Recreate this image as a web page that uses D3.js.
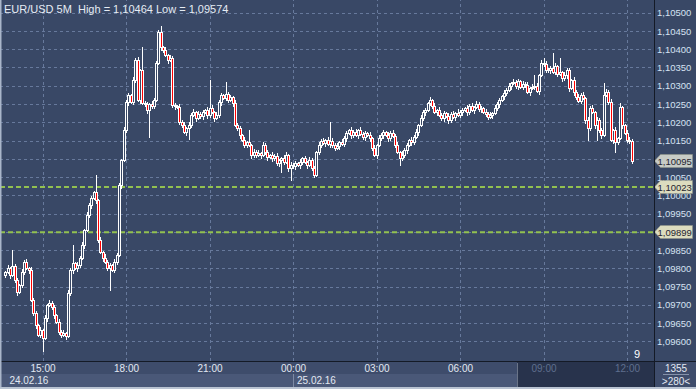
<!DOCTYPE html>
<html><head><meta charset="utf-8">
<script src="https://cdn.jsdelivr.net/npm/d3@7"></script>
<style>
html,body{margin:0;padding:0;background:#394866;overflow:hidden}
svg{display:block}
text{font-family:"Liberation Sans",Arial,sans-serif}
</style></head><body>
<svg id="c" width="696" height="389"></svg>
<script>
// ---------- DATA ----------
const symbolTitle = "EUR/USD 5M  High = 1,10464 Low = 1,09574";
const firstBar = "2016-02-24T13:40";
const barMinutes = 5;
const opens = [
1.09782,1.09790,1.09801,1.09782,1.09807,1.09768,1.09736,1.09755,1.09790,1.09818,
1.09801,1.09796,1.09714,1.09678,1.09645,1.09618,1.09631,1.09610,1.09664,1.09700,
1.09705,1.09694,1.09673,1.09653,1.09626,1.09618,1.09623,1.09615,1.09733,1.09796,
1.09815,1.09801,1.09809,1.09829,1.09864,1.09905,1.09946,1.09974,1.09993,1.10009,
1.09987,1.09878,1.09845,1.09829,1.09818,1.09801,1.09809,1.09796,1.09818,1.09837,
1.10028,1.10097,1.10179,1.10256,1.10275,1.10256,1.10316,1.10371,1.10261,1.10343,
1.10253,1.10250,1.10234,1.10250,1.10245,1.10261,1.10363,1.10447,1.10406,1.10398,
1.10384,1.10371,1.10376,1.10248,1.10245,1.10242,1.10201,1.10193,1.10174,1.10185,
1.10193,1.10220,1.10228,1.10212,1.10223,1.10217,1.10228,1.10234,1.10220,1.10239,
1.10228,1.10212,1.10220,1.10256,1.10275,1.10267,1.10278,1.10261,1.10269,1.10253,
1.10193,1.10185,1.10165,1.10152,1.10138,1.10146,1.10138,1.10111,1.10119,1.10111,
1.10116,1.10111,1.10138,1.10119,1.10105,1.10111,1.10102,1.10108,1.10089,1.10097,
1.10102,1.10091,1.10111,1.10075,1.10083,1.10080,1.10089,1.10083,1.10091,1.10102,
1.10091,1.10083,1.10097,1.10075,1.10056,1.10119,1.10138,1.10149,1.10143,1.10152,
1.10141,1.10149,1.10138,1.10130,1.10135,1.10146,1.10141,1.10157,1.10171,1.10179,
1.10165,1.10174,1.10165,1.10179,1.10168,1.10160,1.10171,1.10165,1.10157,1.10130,
1.10111,1.10138,1.10157,1.10165,1.10174,1.10165,1.10157,1.10171,1.10163,1.10138,
1.10119,1.10102,1.10111,1.10124,1.10138,1.10152,1.10146,1.10160,1.10174,1.10193,
1.10212,1.10228,1.10234,1.10253,1.10261,1.10245,1.10228,1.10234,1.10220,1.10212,
1.10226,1.10217,1.10206,1.10223,1.10215,1.10226,1.10220,1.10228,1.10234,1.10239,
1.10228,1.10245,1.10234,1.10242,1.10250,1.10237,1.10239,1.10228,1.10223,1.10215,
1.10220,1.10226,1.10239,1.10250,1.10261,1.10272,1.10280,1.10289,1.10300,1.10308,
1.10310,1.10300,1.10313,1.10297,1.10305,1.10302,1.10283,1.10294,1.10297,1.10300,
1.10286,1.10330,1.10363,1.10360,1.10343,1.10343,1.10349,1.10338,1.10354,1.10332,
1.10338,1.10321,1.10330,1.10343,1.10294,1.10316,1.10283,1.10269,1.10258,1.10275,
1.10267,1.10206,1.10185,1.10239,1.10228,1.10193,1.10206,1.10179,1.10165,1.10275,
1.10283,1.10256,1.10152,1.10179,1.10146,1.10157,1.10242,1.10193,1.10171,1.10152,
1.10149];
const highs = [
1.09794,1.09808,1.09804,1.09850,1.09812,1.09774,1.09757,1.09798,1.09822,1.09825,
1.09804,1.09805,1.09719,1.09684,1.09647,1.09639,1.09635,1.09671,1.09703,1.09714,
1.09710,1.09700,1.09675,1.09661,1.09630,1.09630,1.09626,1.09742,1.09801,1.09864,
1.09817,1.09817,1.09833,1.09871,1.09908,1.09955,1.09979,1.09999,1.10011,1.10056,
1.09991,1.09885,1.09848,1.09838,1.09823,1.09815,1.09811,1.09826,1.09841,1.10035,
1.10100,1.10188,1.10261,1.10281,1.10277,1.10324,1.10375,1.10378,1.10346,1.10406,
1.10258,1.10256,1.10252,1.10259,1.10266,1.10369,1.10453,1.10464,1.10410,1.10405,
1.10387,1.10385,1.10381,1.10254,1.10247,1.10250,1.10205,1.10200,1.10188,1.10202,
1.10225,1.10235,1.10231,1.10232,1.10228,1.10234,1.10236,1.10242,1.10316,1.10246,
1.10231,1.10229,1.10261,1.10281,1.10277,1.10310,1.10282,1.10276,1.10272,1.10262,
1.10198,1.10191,1.10167,1.10160,1.10150,1.10179,1.10141,1.10128,1.10123,1.10123,
1.10119,1.10147,1.10143,1.10125,1.10113,1.10119,1.10112,1.10115,1.10100,1.10104,
1.10110,1.10118,1.10114,1.10092,1.10088,1.10095,1.10091,1.10099,1.10106,1.10109,
1.10094,1.10106,1.10102,1.10081,1.10121,1.10146,1.10153,1.10156,1.10155,1.10161,
1.10201,1.10157,1.10142,1.10142,1.10149,1.10155,1.10162,1.10177,1.10181,1.10187,
1.10178,1.10181,1.10182,1.10188,1.10173,1.10177,1.10173,1.10173,1.10161,1.10137,
1.10141,1.10166,1.10170,1.10180,1.10176,1.10173,1.10175,1.10178,1.10167,1.10145,
1.10122,1.10120,1.10129,1.10144,1.10154,1.10160,1.10164,1.10181,1.10196,1.10221,
1.10233,1.10240,1.10255,1.10269,1.10265,1.10252,1.10237,1.10243,1.10225,1.10232,
1.10228,1.10225,1.10227,1.10230,1.10229,1.10235,1.10233,1.10240,1.10241,1.10247,
1.10249,1.10252,1.10245,1.10259,1.10255,1.10245,1.10241,1.10236,1.10227,1.10227,
1.10229,1.10248,1.10255,1.10267,1.10274,1.10288,1.10293,1.10307,1.10311,1.10319,
1.10315,1.10319,1.10315,1.10313,1.10309,1.10309,1.10297,1.10306,1.10330,1.10307,
1.10332,1.10371,1.10376,1.10367,1.10348,1.10355,1.10390,1.10362,1.10358,1.10376,
1.10341,1.10339,1.10348,1.10349,1.10318,1.10324,1.10287,1.10277,1.10279,1.10282,
1.10270,1.10215,1.10244,1.10246,1.10230,1.10215,1.10211,1.10185,1.10308,1.10292,
1.10288,1.10263,1.10181,1.10188,1.10161,1.10253,1.10245,1.10196,1.10179,1.10161,
1.10153];
const lows = [
1.09777,1.09787,1.09774,1.09778,1.09762,1.09727,1.09733,1.09748,1.09785,1.09798,
1.09788,1.09710,1.09672,1.09636,1.09615,1.09611,1.09574,1.09607,1.09656,1.09696,
1.09688,1.09664,1.09650,1.09619,1.09613,1.09615,1.09607,1.09611,1.09727,1.09787,
1.09798,1.09794,1.09804,1.09826,1.09856,1.09901,1.09940,1.09965,1.09990,1.09980,
1.09873,1.09842,1.09821,1.09814,1.09795,1.09741,1.09793,1.09789,1.09813,1.09834,
1.10020,1.10093,1.10173,1.10247,1.10253,1.10249,1.10311,1.10258,1.10253,1.10249,
1.10244,1.10225,1.10160,1.10238,1.10240,1.10258,1.10360,1.10399,1.10393,1.10381,
1.10363,1.10367,1.10242,1.10236,1.10239,1.10194,1.10188,1.10171,1.10166,1.10154,
1.10188,1.10217,1.10204,1.10208,1.10211,1.10208,1.10225,1.10213,1.10215,1.10225,
1.10204,1.10208,1.10214,1.10247,1.10264,1.10260,1.10256,1.10258,1.10245,1.10189,
1.10179,1.10156,1.10149,1.10131,1.10133,1.10135,1.10103,1.10105,1.10106,1.10108,
1.10103,1.10107,1.10113,1.10096,1.10102,1.10095,1.10098,1.10083,1.10081,1.10064,
1.10087,1.10088,1.10067,1.10042,1.10074,1.10071,1.10080,1.10076,1.10086,1.10088,
1.10075,1.10079,1.10069,1.10050,1.10053,1.10112,1.10133,1.10140,1.10135,1.10137,
1.10132,1.10131,1.10125,1.10127,1.10127,1.10137,1.10135,1.10148,1.10168,1.10158,
1.10160,1.10162,1.10157,1.10164,1.10154,1.10151,1.10162,1.10150,1.10125,1.10108,
1.10103,1.10134,1.10151,1.10156,1.10162,1.10150,1.10152,1.10160,1.10133,1.10116,
1.10083,1.10098,1.10105,1.10115,1.10135,1.10139,1.10141,1.10157,1.10166,1.10189,
1.10206,1.10219,1.10231,1.10246,1.10240,1.10225,1.10220,1.10216,1.10206,1.10203,
1.10214,1.10199,1.10201,1.10212,1.10207,1.10216,1.10214,1.10219,1.10231,1.10221,
1.10223,1.10231,1.10226,1.10238,1.10231,1.10228,1.10225,1.10216,1.10210,1.10212,
1.10212,1.10222,1.10233,1.10241,1.10258,1.10265,1.10275,1.10286,1.10292,1.10304,
1.10294,1.10291,1.10294,1.10290,1.10297,1.10280,1.10275,1.10290,1.10291,1.10283,
1.10278,1.10327,1.10354,1.10339,1.10337,1.10334,1.10335,1.10331,1.10327,1.10329,
1.10313,1.10317,1.10322,1.10285,1.10291,1.10276,1.10264,1.10255,1.10253,1.10264,
1.10198,1.10152,1.10180,1.10225,1.10185,1.10152,1.10173,1.10156,1.10162,1.10271,
1.10250,1.10149,1.10144,1.10119,1.10141,1.10154,1.10184,1.10168,1.10145,1.10144,
1.10089];
const closes = [
1.09790,1.09801,1.09782,1.09807,1.09768,1.09736,1.09755,1.09790,1.09818,1.09801,
1.09796,1.09714,1.09678,1.09645,1.09618,1.09631,1.09610,1.09664,1.09700,1.09705,
1.09694,1.09673,1.09653,1.09626,1.09618,1.09623,1.09615,1.09733,1.09796,1.09815,
1.09801,1.09809,1.09829,1.09864,1.09905,1.09946,1.09974,1.09993,1.10009,1.09987,
1.09878,1.09845,1.09829,1.09818,1.09801,1.09809,1.09796,1.09818,1.09837,1.10028,
1.10097,1.10179,1.10256,1.10275,1.10256,1.10316,1.10371,1.10261,1.10343,1.10253,
1.10250,1.10234,1.10250,1.10245,1.10261,1.10363,1.10447,1.10406,1.10398,1.10384,
1.10371,1.10376,1.10248,1.10245,1.10242,1.10201,1.10193,1.10174,1.10185,1.10193,
1.10220,1.10228,1.10212,1.10223,1.10217,1.10228,1.10234,1.10220,1.10239,1.10228,
1.10212,1.10220,1.10256,1.10275,1.10267,1.10278,1.10261,1.10269,1.10253,1.10193,
1.10185,1.10165,1.10152,1.10138,1.10146,1.10138,1.10111,1.10119,1.10111,1.10116,
1.10111,1.10138,1.10119,1.10105,1.10111,1.10102,1.10108,1.10089,1.10097,1.10102,
1.10091,1.10111,1.10075,1.10083,1.10080,1.10089,1.10083,1.10091,1.10102,1.10091,
1.10083,1.10097,1.10075,1.10056,1.10119,1.10138,1.10149,1.10143,1.10152,1.10141,
1.10149,1.10138,1.10130,1.10135,1.10146,1.10141,1.10157,1.10171,1.10179,1.10165,
1.10174,1.10165,1.10179,1.10168,1.10160,1.10171,1.10165,1.10157,1.10130,1.10111,
1.10138,1.10157,1.10165,1.10174,1.10165,1.10157,1.10171,1.10163,1.10138,1.10119,
1.10102,1.10111,1.10124,1.10138,1.10152,1.10146,1.10160,1.10174,1.10193,1.10212,
1.10228,1.10234,1.10253,1.10261,1.10245,1.10228,1.10234,1.10220,1.10212,1.10226,
1.10217,1.10206,1.10223,1.10215,1.10226,1.10220,1.10228,1.10234,1.10239,1.10228,
1.10245,1.10234,1.10242,1.10250,1.10237,1.10239,1.10228,1.10223,1.10215,1.10220,
1.10226,1.10239,1.10250,1.10261,1.10272,1.10280,1.10289,1.10300,1.10308,1.10310,
1.10300,1.10313,1.10297,1.10305,1.10302,1.10283,1.10294,1.10297,1.10300,1.10286,
1.10330,1.10363,1.10360,1.10343,1.10343,1.10349,1.10338,1.10354,1.10332,1.10338,
1.10321,1.10330,1.10343,1.10294,1.10316,1.10283,1.10269,1.10258,1.10275,1.10267,
1.10206,1.10185,1.10239,1.10228,1.10193,1.10206,1.10179,1.10165,1.10275,1.10283,
1.10256,1.10152,1.10179,1.10146,1.10157,1.10242,1.10193,1.10171,1.10152,1.10149,
1.10095];
const timeTicks = ["2016-02-24T15:00","2016-02-24T18:00","2016-02-24T21:00","2016-02-25T00:00",
                   "2016-02-25T03:00","2016-02-25T06:00","2016-02-25T09:00","2016-02-25T12:00"];
const priceTicks = [1.09600,1.09650,1.09700,1.09750,1.09800,1.09850,1.09900,1.09950,1.10000,
                    1.10050,1.10100,1.10150,1.10200,1.10250,1.10300,1.10350,1.10400,1.10450,1.10500];
const dayStarts = ["2016-02-24T13:40","2016-02-25T00:00"];
const dayLabels = ["24.02.16","25.02.16"];
const levelPrices = [1.10023, 1.09899];
const lastPrice = 1.10095;
const barsCountLabel = "1355";
const scaleLabel = ">280<";
const countdownLabel = "9";

// ---------- LAYOUT ----------
const W = 696, H = 389;
const plotR = 654, plotB = 361;
const BG = "#394866";
const parse = d3.timeParse("%Y-%m-%dT%H:%M");
const fmtP = v => v.toFixed(5).replace(".", ",");

const x = d3.scaleTime()
  .domain([parse(timeTicks[0]), parse(timeTicks[timeTicks.length - 1])])
  .range([42.5, 627]);
const y = d3.scaleLinear().domain([1.096, 1.105]).range([341.4, 12.7]);

const svg = d3.select("#c");
svg.append("rect").attr("width", W).attr("height", H).attr("fill", BG);

// grid
const grid = svg.append("g");
grid.append("g")
  .call(d3.axisLeft(y).tickValues(priceTicks).tickSize(-plotR).tickFormat(""))
  .call(g => g.select(".domain").remove())
  .call(g => g.selectAll("line").attr("stroke", "#67799c").attr("stroke-dasharray", "3,3")
     .attr("shape-rendering", "crispEdges"));
grid.append("g").attr("transform", `translate(0,${plotB})`)
  .call(d3.axisBottom(x).tickValues(timeTicks.map(parse)).tickSize(-plotB).tickFormat(""))
  .call(g => g.select(".domain").remove())
  .call(g => g.selectAll("line").attr("stroke", "#67799c").attr("stroke-dasharray", "3,3")
     .attr("shape-rendering", "crispEdges"));

// level lines
svg.append("g").selectAll("line").data(levelPrices).join("line")
  .attr("x1", 0).attr("x2", plotR)
  .attr("y1", d => y(d)).attr("y2", d => y(d))
  .attr("stroke", "#92c150").attr("stroke-width", 2).attr("stroke-dasharray", "5,3");

// candles
const t0 = parse(firstBar);
const bars = closes.map((c, i) => ({
  t: d3.timeMinute.offset(t0, i * barMinutes), o: opens[i], h: highs[i], l: lows[i], c
}));
const cg = svg.append("g").attr("shape-rendering", "crispEdges");
bars.forEach(b => {
  const cx = Math.round(x(b.t));
  const yh = Math.round(y(b.h)), yl = Math.round(y(b.l));
  const top = Math.round(y(Math.max(b.o, b.c))), bot = Math.round(y(Math.min(b.o, b.c)));
  const g = cg.append("g");
  g.append("rect").attr("x", cx).attr("y", yh).attr("width", 1).attr("height", Math.max(1, yl - yh + 1)).attr("fill", "#ffffff");
  g.append("rect").attr("x", cx - 1).attr("y", top).attr("width", 3).attr("height", bot - top + 1).attr("fill", "#ffffff");
  if (bot - top > 1) {
    g.append("rect").attr("x", cx).attr("y", top + 1).attr("width", 1).attr("height", bot - top - 1)
      .attr("fill", b.c < b.o ? "#ff0000" : BG);
  }
});

// countdown label
svg.append("text").attr("x", 637).attr("y", 358).attr("text-anchor", "middle")
  .attr("font-size", 11).attr("fill", "#ffffff").text(countdownLabel);

// right price axis
const tagValues = [lastPrice, ...levelPrices];
const hiddenByTag = v => tagValues.some(t => Math.abs(y(t) - y(v)) < 7);
svg.append("rect").attr("x", plotR).attr("y", 0).attr("width", W - plotR).attr("height", plotB).attr("fill", BG);
svg.append("g").attr("transform", `translate(${plotR},0)`)
  .call(d3.axisRight(y).tickValues(priceTicks).tickSize(0).tickPadding(3)
     .tickFormat(v => hiddenByTag(v) ? "" : fmtP(v)))
  .call(g => g.select(".domain").remove())
  .call(g => g.selectAll("text").attr("fill", "#d6e2f2").attr("font-size", 9.5)
     .attr("font-family", "'Liberation Sans',Arial,sans-serif"));

// price tags
const tags = [{v: lastPrice, fill: "#c7cbc6"}, ...levelPrices.map(v => ({v, fill: "#dcdcbf"}))];
const tg = svg.append("g").selectAll("g").data(tags).join("g")
  .attr("transform", d => `translate(0,${Math.round(y(d.v))})`);
tg.append("path").attr("d", "M654.5,0 L660.5,-6.5 L692.5,-6.5 L692.5,6.5 L660.5,6.5 Z")
  .attr("fill", d => d.fill).attr("stroke", "#8f9489").attr("stroke-width", 0.6);
tg.append("text").attr("x", 657.5).attr("y", 3.5).attr("font-size", 9.5).attr("fill", "#1f2430")
  .text(d => fmtP(d.v));

// bottom time axis panel
svg.append("rect").attr("x", 0).attr("y", plotB).attr("width", W).attr("height", H - plotB).attr("fill", "#3e4c6b");
svg.append("rect").attr("x", 0).attr("y", 374).attr("width", plotR).attr("height", 13).attr("fill", "#4a5878");
svg.append("rect").attr("x", 517).attr("y", plotB + 1).attr("width", plotR - 517).attr("height", 387 - plotB - 1).attr("fill", "#28334c");
svg.append("line").attr("x1", 517.5).attr("x2", 517.5).attr("y1", 363).attr("y2", 387).attr("stroke", "#6a7488");

const xa = svg.append("g").attr("transform", `translate(0,${plotB})`)
  .call(d3.axisBottom(x).tickValues(timeTicks.map(parse)).tickSize(0).tickPadding(4).tickFormat(d3.timeFormat("%H:%M")));
xa.select(".domain").remove();
xa.selectAll("text").attr("font-size", 10).attr("font-family", "'Liberation Sans',Arial,sans-serif")
  .attr("fill", d => x(d) > 517 ? "#5f6f8e" : "#e2e8f2");

// day labels
const dayX = dayStarts.map(s => x(parse(s)));
svg.append("g").selectAll("text").data(dayLabels).join("text")
  .attr("x", (d, i) => Math.max(8, dayX[i] + 4)).attr("y", 384)
  .attr("font-size", 10).attr("fill", "#e2e8f2").text(d => d);
svg.append("line").attr("x1", Math.round(dayX[1]) + 0.5).attr("x2", Math.round(dayX[1]) + 0.5)
  .attr("y1", 374).attr("y2", 387).attr("stroke", "#7d8aa4");

// frame lines
svg.append("line").attr("x1", 0).attr("x2", W).attr("y1", plotB + 0.5).attr("y2", plotB + 0.5).attr("stroke", "#141a26");
svg.append("line").attr("x1", plotR + 0.5).attr("x2", plotR + 0.5).attr("y1", 0).attr("y2", 387).attr("stroke", "#141a26");
svg.append("rect").attr("x", 0).attr("y", 387).attr("width", W).attr("height", 2).attr("fill", "#b9c3d2");
svg.append("rect").attr("x", 0).attr("y", 0).attr("width", 1.5).attr("height", 387).attr("fill", "#aab6ca");

// right-bottom box
svg.append("text").attr("x", 676).attr("y", 372).attr("text-anchor", "middle").attr("font-size", 10)
  .attr("fill", "#e2e8f2").text(barsCountLabel);
svg.append("line").attr("x1", 663).attr("x2", 689).attr("y1", 374.5).attr("y2", 374.5).attr("stroke", "#8592aa");
svg.append("text").attr("x", 676).attr("y", 385).attr("text-anchor", "middle").attr("font-size", 10)
  .attr("fill", "#e2e8f2").text(scaleLabel);

// title
svg.append("text").attr("x", 4).attr("y", 13).attr("font-size", 11).attr("fill", "#e6ecf4")
  .style("white-space", "pre").text(symbolTitle);
</script>
</body></html>
